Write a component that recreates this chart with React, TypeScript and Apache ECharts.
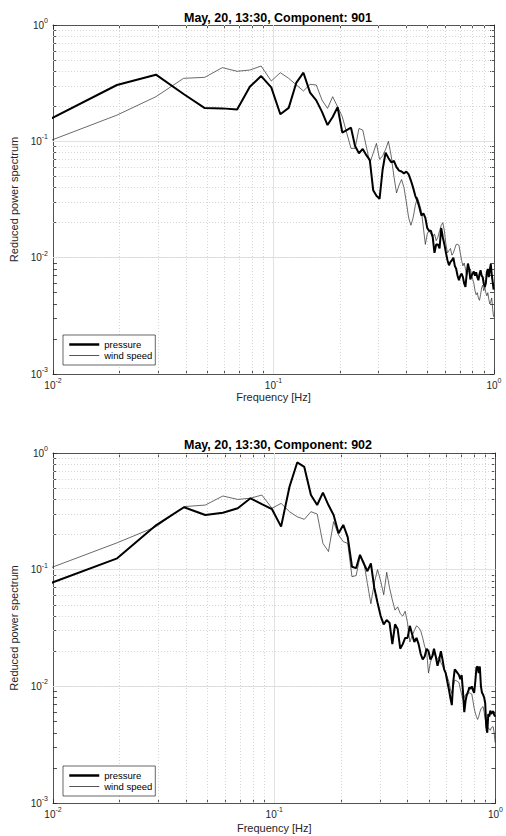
import React, { useEffect, useRef } from 'react';
import * as echarts from 'echarts';

// Frequency grid [Hz]
const freq = [
  0.0098, 0.0195, 0.0293, 0.0391, 0.0488, 0.0586, 0.0684, 0.0781, 0.0879, 0.0977,
  0.1074, 0.1172, 0.127, 0.1367, 0.1465, 0.1563, 0.166, 0.1758, 0.1855, 0.1953,
  0.2051, 0.2148, 0.2246, 0.2344, 0.2441, 0.2539, 0.2637, 0.2734, 0.2832, 0.293,
  0.3027, 0.3125, 0.3223, 0.332, 0.3418, 0.3516, 0.3613, 0.3711, 0.3809, 0.3906,
  0.4004, 0.4102, 0.4199, 0.4297, 0.4395, 0.4492, 0.459, 0.4688, 0.4785, 0.4883,
  0.498, 0.5078, 0.5176, 0.5273, 0.5371, 0.5469, 0.5566, 0.5664, 0.5762, 0.5859,
  0.5957, 0.6055, 0.6152, 0.625, 0.6348, 0.6445, 0.6543, 0.6641, 0.6738, 0.6836,
  0.6934, 0.7031, 0.7129, 0.7227, 0.7324, 0.7422, 0.752, 0.7617, 0.7715, 0.7813,
  0.791, 0.8008, 0.8105, 0.8203, 0.8301, 0.8398, 0.8496, 0.8594, 0.8691, 0.8789,
  0.8887, 0.8984, 0.9082, 0.918, 0.9277, 0.9375, 0.9473, 0.957, 0.9668, 0.9766,
  0.9863, 0.9961,
];

const pressure901 = [
  0.157, 0.305, 0.374, 0.255, 0.193, 0.192, 0.188, 0.295, 0.364, 0.291,
  0.171, 0.194, 0.32, 0.389, 0.262, 0.225, 0.179, 0.138, 0.162, 0.197,
  0.119, 0.125, 0.131, 0.091, 0.079, 0.086, 0.076, 0.069, 0.038, 0.034,
  0.032, 0.057, 0.08, 0.072, 0.066, 0.068, 0.06, 0.056, 0.055, 0.053,
  0.055, 0.052, 0.046, 0.04, 0.034, 0.031, 0.027, 0.023, 0.024, 0.022,
  0.018, 0.017, 0.017, 0.015, 0.011, 0.013, 0.013, 0.012, 0.018, 0.015,
  0.013, 0.011, 0.0095, 0.0086, 0.0092, 0.0095, 0.01, 0.0085, 0.008, 0.007,
  0.0064, 0.007, 0.0073, 0.0068, 0.006, 0.0056, 0.0073, 0.0089, 0.008, 0.0065,
  0.007, 0.0073, 0.0076, 0.007, 0.0075, 0.0068, 0.0064, 0.0072, 0.0078, 0.007,
  0.0068, 0.006, 0.0056, 0.006, 0.0075, 0.008, 0.0068, 0.0078, 0.0088, 0.0072,
  0.0062, 0.0053,
];

const wind901 = [
  0.102, 0.168, 0.242, 0.348, 0.355, 0.43, 0.4, 0.41, 0.444, 0.33,
  0.389, 0.348, 0.305, 0.271, 0.309, 0.305, 0.226, 0.192, 0.242, 0.198,
  0.163, 0.118, 0.087, 0.087, 0.129, 0.125, 0.09, 0.065, 0.079, 0.096,
  0.07, 0.075, 0.085, 0.1, 0.075, 0.05, 0.036, 0.042, 0.047, 0.04,
  0.03, 0.022, 0.019, 0.022, 0.028, 0.033, 0.029, 0.025, 0.018, 0.013,
  0.016, 0.017, 0.016, 0.015, 0.016, 0.014, 0.015, 0.017, 0.019, 0.02,
  0.017, 0.013, 0.011, 0.0115, 0.012, 0.0105, 0.011, 0.012, 0.013, 0.013,
  0.0128, 0.011, 0.0095, 0.0085, 0.009, 0.008, 0.007, 0.0075, 0.0078, 0.008,
  0.0072, 0.0065, 0.006, 0.0052, 0.0048, 0.005, 0.0045, 0.0043, 0.0048, 0.0055,
  0.0058, 0.0052, 0.0056, 0.005, 0.0047, 0.005, 0.0044, 0.004, 0.0042, 0.0045,
  0.0036, 0.0031,
];

const pressure902 = [
  0.077, 0.125, 0.241, 0.343, 0.294, 0.308, 0.336, 0.409, 0.365, 0.33,
  0.234, 0.514, 0.83, 0.76, 0.436, 0.358, 0.457, 0.358, 0.294, 0.205,
  0.242, 0.19, 0.106, 0.103, 0.134, 0.113, 0.097, 0.113, 0.07, 0.052,
  0.04, 0.034, 0.037, 0.035, 0.023, 0.034, 0.031, 0.021, 0.023, 0.026,
  0.026, 0.033, 0.028, 0.024, 0.026, 0.023, 0.019, 0.017, 0.018, 0.021,
  0.02, 0.017, 0.018, 0.021, 0.018, 0.015, 0.017, 0.02, 0.017, 0.014,
  0.013, 0.011, 0.0095, 0.008, 0.0069, 0.011, 0.014, 0.0135, 0.013, 0.0125,
  0.0115, 0.0125, 0.009, 0.006, 0.0075, 0.0085, 0.009, 0.0098, 0.0095, 0.01,
  0.0093, 0.0088, 0.011, 0.0145, 0.0148, 0.013, 0.0148, 0.01, 0.0088, 0.0085,
  0.008, 0.0072, 0.0045, 0.004, 0.0058, 0.0055, 0.0062, 0.0058, 0.006, 0.0061,
  0.0057, 0.0055,
];

const wind902 = [
  0.104, 0.17, 0.234, 0.347, 0.358, 0.428, 0.4, 0.41, 0.436, 0.336,
  0.37, 0.314, 0.284, 0.27, 0.314, 0.3, 0.168, 0.143, 0.258, 0.198,
  0.174, 0.168, 0.087, 0.089, 0.128, 0.117, 0.076, 0.051, 0.077, 0.1,
  0.08, 0.061, 0.095, 0.07, 0.055, 0.045, 0.048, 0.042, 0.04, 0.044,
  0.035, 0.024, 0.027, 0.03, 0.033, 0.032, 0.03, 0.026, 0.022, 0.02,
  0.013, 0.016, 0.018, 0.019, 0.018, 0.017, 0.018, 0.016, 0.015, 0.014,
  0.013, 0.012, 0.011, 0.0095, 0.0087, 0.01, 0.0113, 0.0112, 0.011, 0.0108,
  0.0095, 0.0085, 0.0077, 0.008, 0.0085, 0.0083, 0.0086, 0.0088, 0.0087, 0.0086,
  0.0075, 0.0065, 0.0059, 0.0055, 0.0052, 0.0055, 0.006, 0.0064, 0.0066, 0.0067,
  0.006, 0.0052, 0.0048, 0.0045, 0.0044, 0.0043, 0.0042, 0.0044, 0.0045, 0.0045,
  0.004, 0.0033,
];

const titles = ['May, 20, 13:30, Component: 901', 'May, 20, 13:30, Component: 902'];
const seriesNames = ['pressure', 'wind speed'];
const xAxisName = 'Frequency [Hz]';
const yAxisName = 'Reduced power spectrum';

const xTickValues = [0.01, 0.02, 0.03, 0.04, 0.05, 0.06, 0.07, 0.08, 0.09, 0.1, 0.2, 0.3, 0.4, 0.5, 0.6, 0.7, 0.8, 0.9, 1];
const yTickValues = [0.001, 0.002, 0.003, 0.004, 0.005, 0.006, 0.007, 0.008, 0.009, 0.01, 0.02, 0.03, 0.04, 0.05, 0.06, 0.07, 0.08, 0.09, 0.1, 0.2, 0.3, 0.4, 0.5, 0.6, 0.7, 0.8, 0.9, 1];
const xLabelValues = [0.01, 0.1, 1];
const yLabelValues = [0.001, 0.01, 0.1, 1];
const xMajorGrid = [0.1];
const xMinorGrid = [0.02, 0.03, 0.04, 0.05, 0.06, 0.07, 0.08, 0.09, 0.2, 0.3, 0.4, 0.5, 0.6, 0.7, 0.8, 0.9];
const yMajorGrid = [0.01, 0.1];
const yMinorGrid = [0.002, 0.003, 0.004, 0.005, 0.006, 0.007, 0.008, 0.009, 0.02, 0.03, 0.04, 0.05, 0.06, 0.07, 0.08, 0.09, 0.2, 0.3, 0.4, 0.5, 0.6, 0.7, 0.8, 0.9];

const FONT = '"Liberation Sans", Arial, Helvetica, sans-serif';
const AXIS = '#262626';
const PRESSURE_COLOR = '#000000';
const WIND_COLOR = '#2a2a2a';

const panels = [
  { pressure: pressure901, wind: wind901, title: titles[0], grid: { left: 53, top: 25, width: 441, height: 349 }, titleTop: 11, legendTop: 335, xNameGap: 17 },
  { pressure: pressure902, wind: wind902, title: titles[1], grid: { left: 53, top: 453, width: 444, height: 350 }, titleTop: 438, legendTop: 766, xNameGap: 19 },
];

const expFormatter = (v: number) => {
  const e = Math.round(Math.log10(v));
  return `{b|10}{s|${e}}`;
};

const rich = {
  b: { fontSize: 10, lineHeight: 16, color: AXIS, fontFamily: FONT },
  s: { fontSize: 7, lineHeight: 8, verticalAlign: 'top', color: AXIS, fontFamily: FONT },
};

function makeAxis(gridIndex: number, kind: 'x' | 'y', main: boolean, nameGap: number) {
  const isX = kind === 'x';
  const ax: any = {
    type: 'log',
    logBase: 10,
    gridIndex,
    min: isX ? 0.01 : 0.001,
    max: 1,
    position: isX ? (main ? 'bottom' : 'top') : (main ? 'left' : 'right'),
    axisLine: { show: true, onZero: false, lineStyle: { color: AXIS, width: 0.8 } },
    axisTick: {
      show: true,
      inside: true,
      length: 4,
      customValues: isX ? xTickValues : yTickValues,
      lineStyle: { color: AXIS, width: 0.8 },
    },
    minorTick: { show: false },
    splitLine: { show: false },
    minorSplitLine: { show: false },
    axisLabel: main
      ? {
          show: true,
          customValues: isX ? xLabelValues : yLabelValues,
          formatter: expFormatter,
          rich,
          margin: isX ? 3 : 5,
          showMinLabel: true,
          showMaxLabel: true,
          hideOverlap: false,
        }
      : { show: false },
    silent: true,
  };
  if (main) {
    ax.name = isX ? xAxisName : yAxisName;
    ax.nameLocation = 'middle';
    ax.nameGap = nameGap;
    ax.nameTextStyle = { fontSize: 11, color: AXIS, fontFamily: FONT };
  }
  return ax;
}

function gridLines() {
  const major = { color: '#e2e2e2', width: 1, type: 'solid' };
  const minor = { color: '#d6d6d6', width: 1, type: [1, 2] };
  return [
    ...xMajorGrid.map((v) => ({ xAxis: v, lineStyle: major })),
    ...xMinorGrid.map((v) => ({ xAxis: v, lineStyle: minor })),
    ...yMajorGrid.map((v) => ({ yAxis: v, lineStyle: major })),
    ...yMinorGrid.map((v) => ({ yAxis: v, lineStyle: minor })),
  ];
}

export default function App() {
  const ref = useRef<HTMLDivElement>(null);

  useEffect(() => {
    if (!ref.current) return;
    const chart = echarts.init(ref.current, null, { renderer: 'svg' });

    const xAxis: any[] = [];
    const yAxis: any[] = [];
    const series: any[] = [];
    panels.forEach((p, i) => {
      xAxis.push(makeAxis(i, 'x', true, p.xNameGap));
      xAxis.push(makeAxis(i, 'x', false, 0));
      yAxis.push(makeAxis(i, 'y', true, 31));
      yAxis.push(makeAxis(i, 'y', false, 0));
      series.push({
        type: 'line',
        name: seriesNames[1],
        xAxisIndex: i * 2,
        yAxisIndex: i * 2,
        data: freq.map((f, k) => [f, p.wind[k]]),
        symbol: 'none',
        showSymbol: false,
        clip: true,
        silent: true,
        z: 3,
        itemStyle: { color: WIND_COLOR },
        lineStyle: { color: WIND_COLOR, width: 0.7 },
        markLine: {
          z: 1,
          silent: true,
          symbol: ['none', 'none'],
          label: { show: false },
          emphasis: { disabled: true },
          data: gridLines(),
        },
      });
      series.push({
        type: 'line',
        name: seriesNames[0],
        xAxisIndex: i * 2,
        yAxisIndex: i * 2,
        data: freq.map((f, k) => [f, p.pressure[k]]),
        symbol: 'none',
        showSymbol: false,
        clip: true,
        silent: true,
        z: 4,
        itemStyle: { color: PRESSURE_COLOR },
        lineStyle: { color: PRESSURE_COLOR, width: 2 },
      });
    });

    const hiddenSymbol = { opacity: 0, color: 'transparent', borderWidth: 0 };

    const option: any = {
      animation: false,
      backgroundColor: '#ffffff',
      textStyle: { fontFamily: FONT },
      title: panels.map((p) => ({
        text: p.title,
        left: 278,
        top: p.titleTop,
        textAlign: 'center',
        padding: 0,
        textStyle: { fontSize: 12.5, fontWeight: 'bold', color: '#000', fontFamily: FONT },
      })),
      grid: panels.map((p) => ({ ...p.grid, containLabel: false })),
      legend: panels.map((p) => ({
        left: 63,
        top: p.legendTop,
        orient: 'vertical',
        itemWidth: 30,
        itemHeight: 11,
        itemGap: 0,
        padding: [4, 3, 4, 5],
        borderColor: AXIS,
        borderWidth: 0.7,
        backgroundColor: '#ffffff',
        selectedMode: false,
        textStyle: { fontSize: 9.5, lineHeight: 11, color: '#000', fontFamily: FONT },
        data: [
          { name: seriesNames[0], itemStyle: hiddenSymbol, lineStyle: { width: 2.5, color: PRESSURE_COLOR } },
          { name: seriesNames[1], itemStyle: hiddenSymbol, lineStyle: { width: 0.8, color: WIND_COLOR } },
        ],
      })),
      xAxis,
      yAxis,
      series,
    };

    chart.setOption(option);
    return () => chart.dispose();
  }, []);

  return <div ref={ref} style={{ position: 'absolute', left: 0, top: 0, width: 506, height: 836 }} />;
}
